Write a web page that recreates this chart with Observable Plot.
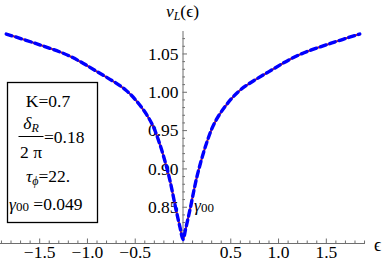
<!DOCTYPE html>
<html><head><meta charset="utf-8">
<script src="https://cdn.jsdelivr.net/npm/d3@7"></script>
<script src="https://cdn.jsdelivr.net/npm/@observablehq/plot@0.6"></script>
<style>html,body{margin:0;padding:0;background:#fff}
svg text, svg tspan{font-family:'Liberation Serif','DejaVu Serif',serif !important;}</style>
</head><body><div id="chart"></div>
<script>
// curve values
const eps = [-1.85,-1.55,-1.2,-0.9,-0.6,-0.45,-0.33,-0.25,-0.15,-0.075,-0.03,0,0.03,0.075,0.15,0.25,0.33,0.45,0.6,0.9,1.2,1.55,1.85];
const nu  = [1.076,1.064,1.048,1.027,1.003,0.983,0.960,0.935,0.892,0.848,0.823,0.808,0.823,0.848,0.892,0.935,0.960,0.983,1.003,1.027,1.048,1.064,1.076];
// tick positions and labels
const xMajor = [-1.5,-1.0,-0.5,0.5,1.0,1.5];
const xMinor = [-1.9,-1.8,-1.7,-1.6,-1.4,-1.3,-1.2,-1.1,-0.9,-0.8,-0.7,-0.6,-0.4,-0.3,-0.2,-0.1,0.1,0.2,0.3,0.4,0.6,0.7,0.8,0.9,1.1,1.2,1.3,1.4,1.6,1.7,1.8,1.9];
const yMajor = [0.85,0.90,0.95,1.00,1.05];
const yMinor = [0.81,0.82,0.83,0.84,0.86,0.87,0.88,0.89,0.91,0.92,0.93,0.94,0.96,0.97,0.98,0.99,1.01,1.02,1.03,1.04,1.06,1.07];
const xDom = [-1.91, 1.91];
const yDom = [0.8027, 1.0793];

const data = eps.map((e, i) => ({eps: e, nu: nu[i]}));
const serif = "'Liberation Serif', 'DejaVu Serif', serif";
const axisColor = "#6e6e6e";
const fmtX = d3.format(".1f"), fmtY = d3.format(".2f");

const plot = Plot.plot({
  width: 383, height: 268,
  marginLeft: 0, marginRight: 18, marginTop: 31, marginBottom: 25,
  x: {domain: xDom, axis: null},
  y: {domain: yDom, axis: null},
  style: {background: "white", fontFamily: serif},
  marks: [
    Plot.ruleY([yDom[0]], {stroke: axisColor, strokeWidth: 1}),
    Plot.ruleX([0], {stroke: axisColor, strokeWidth: 1}),
    Plot.ruleX(xMinor, {x: d => d, y1: yDom[0], y2: yDom[0], insetTop: -2.5, stroke: axisColor}),
    Plot.ruleX(xMajor, {x: d => d, y1: yDom[0], y2: yDom[0], insetTop: -4.5, stroke: axisColor}),
    Plot.ruleY(yMinor, {y: d => d, x1: 0, x2: 0, insetRight: -2.5, stroke: axisColor}),
    Plot.ruleY(yMajor, {y: d => d, x1: 0, x2: 0, insetRight: -4.5, stroke: axisColor}),
    Plot.text(xMajor, {x: d => d, frameAnchor: "bottom", dy: 14.5, text: d => fmtX(d), fontSize: 17.5, fontFamily: serif, fill: "#000"}),
    Plot.text(yMajor, {x: 0, y: d => d, dx: -4.5, textAnchor: "end", text: d => fmtY(d), fontSize: 17.5, fontFamily: serif, fill: "#000"}),
    Plot.line(data, {x: "eps", y: "nu", stroke: "#c0281e", strokeWidth: 2, curve: "catmull-rom"}),
    Plot.line(data, {x: "eps", y: "nu", stroke: "#0000ff", strokeWidth: 3.4, strokeDasharray: "6,4", curve: "catmull-rom"})
  ]
});
document.getElementById("chart").appendChild(plot);

// annotations
const svg = d3.select(plot);
const g = svg.append("g").attr("text-anchor", "start").attr("fill", "#000").attr("font-size", 17.5)
  .style("font-family", serif);

// axis labels
const yl = g.append("text").attr("x", 182.5).attr("y", 17).attr("text-anchor", "middle");
yl.append("tspan").attr("font-style", "italic").text("ν");
yl.append("tspan").attr("font-style", "italic").attr("font-size", 12).attr("dy", 3).text("L");
yl.append("tspan").attr("dy", -3).text("(ϵ)");
g.append("text").attr("x", 374).attr("y", 251).attr("font-size", 18).text("ϵ");

// γ00 label near the cusp
const gl = g.append("text").attr("x", 194).attr("y", 211);
gl.append("tspan").attr("font-style", "italic").text("γ");
gl.append("tspan").attr("font-size", 13).attr("dy", 1).text("00");

// parameter box
g.append("rect").attr("x", 7.5).attr("y", 82.5).attr("width", 90).attr("height", 140)
  .attr("fill", "white").attr("stroke", "#000").attr("stroke-width", 1.3);
g.append("text").attr("x", 48).attr("y", 107).attr("text-anchor", "middle").text("K=0.7");
const num = g.append("text").attr("x", 31).attr("y", 129).attr("text-anchor", "middle");
num.append("tspan").attr("font-style", "italic").text("δ");
num.append("tspan").attr("font-style", "italic").attr("font-size", 12).attr("dy", 3).text("R");
g.append("line").attr("x1", 18.5).attr("x2", 43.5).attr("y1", 136.5).attr("y2", 136.5).attr("stroke", "#000").attr("stroke-width", 1);
g.append("text").attr("x", 31).attr("y", 158).attr("text-anchor", "middle").text("2 π");
g.append("text").attr("x", 44).attr("y", 143).text("=0.18");
const tau = g.append("text").attr("x", 26).attr("y", 182);
tau.append("tspan").attr("font-style", "italic").text("τ");
tau.append("tspan").attr("font-style", "italic").attr("font-size", 12).attr("dy", 3).text("ϕ");
tau.append("tspan").attr("dy", -3).text("=22.");
const gam = g.append("text").attr("x", 9).attr("y", 210);
gam.append("tspan").attr("font-style", "italic").text("γ");
gam.append("tspan").attr("font-size", 13).attr("dy", 1).text("00");
gam.append("tspan").attr("dy", -1).text(" =0.049");
</script>
</body></html>
